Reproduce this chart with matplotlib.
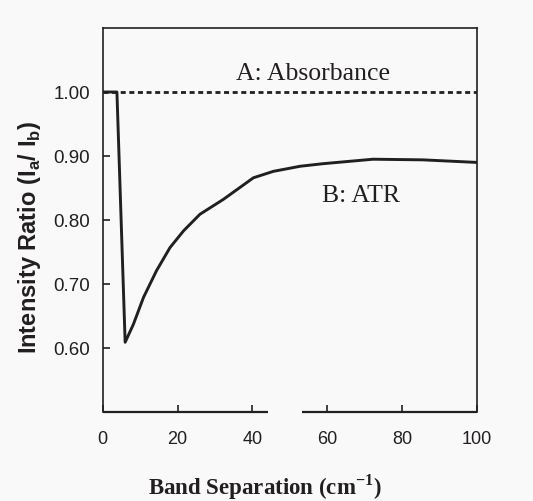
import matplotlib
matplotlib.use("Agg")
import matplotlib.pyplot as plt

# Band separation (cm^-1) and intensity ratios
absorbance_x = [0, 100]
absorbance_y = [1.00, 1.00]

atr_x = [0.0, 3.8, 6.0, 8.2, 10.9, 14.4, 18.0, 21.6, 26.0, 32.2, 40.3, 45.6,
         52.8, 58.9, 72.3, 85.6, 100.0]
atr_y = [1.000, 1.000, 0.609, 0.637, 0.679, 0.721, 0.757, 0.783, 0.809, 0.832,
         0.866, 0.876, 0.884, 0.888, 0.895, 0.894, 0.890]

x_ticks = [0, 20, 40, 60, 80, 100]
y_ticks = [0.60, 0.70, 0.80, 0.90, 1.00]
y_tick_labels = ["0.60", "0.70", "0.80", "0.90", "1.00"]

# bottom axis is drawn in two pieces with a gap
axis_break = (44.2, 53.3)

ink = "#231f20"
bg = "#f9f9f9"

fig = plt.figure(figsize=(5.33, 5.01), dpi=100, facecolor=bg)
ax = fig.add_axes([0.1927, 0.1776, 0.7017, 0.7665], facecolor=bg)

ax.plot(absorbance_x, absorbance_y, color=ink, lw=2.0, dashes=(1.8, 1.3),
        solid_capstyle="butt")
ax.plot(atr_x, atr_y, color=ink, lw=2.1, solid_joinstyle="round")

ax.set_xlim(0, 100)
ax.set_ylim(0.5, 1.1)

ax.set_xticks(x_ticks)
ax.set_yticks(y_ticks)
ax.set_yticklabels(y_tick_labels)

for side in ["left", "right", "top"]:
    ax.spines[side].set_color(ink)
    ax.spines[side].set_linewidth(1.2)
ax.spines["bottom"].set_visible(False)
ax.plot([0, axis_break[0]], [0.5, 0.5], color=ink, lw=1.6, clip_on=False,
        solid_capstyle="butt")
ax.plot([axis_break[1], 100], [0.5, 0.5], color=ink, lw=1.6, clip_on=False,
        solid_capstyle="butt")

ax.tick_params(axis="both", direction="in", length=5, width=1.2, colors=ink,
               labelcolor=ink)
ax.tick_params(axis="x", pad=14)
ax.tick_params(axis="y", pad=9)
for lab in ax.get_xticklabels():
    lab.set_fontfamily("Liberation Sans")
    lab.set_fontsize(13)
for lab in ax.get_yticklabels():
    lab.set_fontfamily("Liberation Sans")
    lab.set_fontsize(13.5)

fig.text(30 / 533, 1 - 237 / 501,
         r"Intensity Ratio (I$_\mathregular{a}$/ I$_\mathregular{b}$)",
         family="Liberation Sans", weight="bold", fontsize=17, color=ink,
         rotation=90, ha="center", va="center")
fig.text(265 / 533, 1 - 487 / 501,
         r"Band Separation (cm$^{\mathregular{-1}}$)",
         family="Liberation Serif", weight="bold", fontsize=16.5, color=ink,
         ha="center", va="center")

ax.text(56.1, 1.028, "A: Absorbance", family="Liberation Serif",
        fontsize=18.5, color=ink, ha="center", va="center")
ax.text(69.1, 0.838, "B: ATR", family="Liberation Serif", fontsize=18.5,
        color=ink, ha="center", va="center")

fig.savefig("out.png", dpi=100, facecolor=bg)
